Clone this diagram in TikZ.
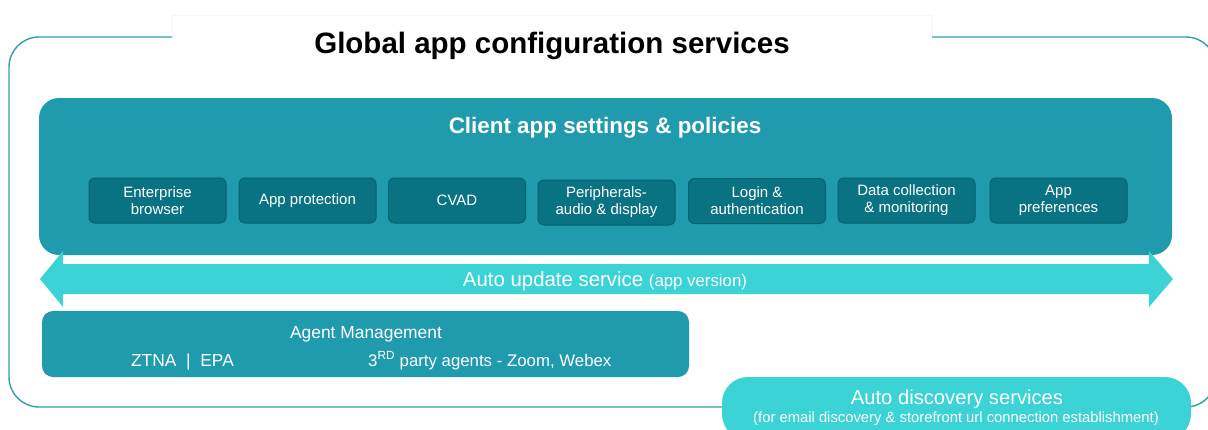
\documentclass[tikz,border=0pt]{standalone}
\usepackage{fontspec}
\setmainfont{Liberation Sans}
\definecolor{frame}{HTML}{2E9FB0}
\definecolor{mainbox}{HTML}{1F9BAD}
\definecolor{inner}{HTML}{0A7383}
\definecolor{innerborder}{HTML}{07616E}
\definecolor{cyanlight}{HTML}{3BD3D6}
\tikzset{
  fs/.style={font=\fontsize{#1}{20}\selectfont},
  innerbox/.style={draw=innerborder, fill=inner, line width=1pt, rounded corners=6pt,
    minimum width=137pt, minimum height=45pt, text=white, align=center,
    font=\fontsize{15}{17}\selectfont, inner sep=0pt},
  whitetext/.style={text=white, inner sep=0pt}
}
\begin{document}
\begin{tikzpicture}[x=1pt,y=-1pt]
\useasboundingbox (0,0) rectangle (1208,429);
% faint title area
\draw[gray!6, line width=0.6pt] (172,37) -- (172,15) -- (932,15) -- (932,37);
% outer frame
\draw[frame, line width=1.4pt, rounded corners=30pt]
  (172,37) -- (9,37) -- (9,407) -- (1216,407) -- (1216,37) -- (932,37);
% title
\node[anchor=base, inner sep=0pt, font=\fontsize{29.5}{34}\selectfont\bfseries] (title) at (552,53) {Global app configuration services};
% client app settings box
\fill[mainbox, rounded corners=20pt] (39,98) rectangle (1172,255);
\node[anchor=base, whitetext, font=\fontsize{22.4}{26}\selectfont\bfseries] (client) at (605,133) {Client app settings \& policies};
% inner boxes
\node[innerbox] (b1) at (157.5,200.5) {Enterprise\\browser};
\node[innerbox] (b2) at (307.5,200.5) {App protection};
\node[innerbox] (b3) at (457,200.5) {CVAD};
\node[innerbox] (b4) at (606.5,202.5) {Peripherals-\\audio \& display};
\node[innerbox] (b5) at (757,201) {Login \&\\authentication};
\node[innerbox] (b6) at (906.5,200.5) {Data collection\\\& monitoring};
\node[innerbox] (b7) at (1058.5,200.5) {App\\preferences};
% auto update double arrow
\fill[cyanlight] (40,279) -- (63,251) -- (63,264) -- (1149,264) -- (1149,251) -- (1173,279)
  -- (1149,307) -- (1149,294) -- (63,294) -- (63,307) -- cycle;
\node[anchor=base, whitetext] (update) at (605,286)
  {\fontsize{20.4}{24}\selectfont Auto update service \fontsize{16.8}{20}\selectfont(app version)};
% agent management
\fill[mainbox, rounded corners=11pt] (42,311) rectangle (689,377);
\node[anchor=base, whitetext, fs=17.4] (agent) at (366,338) {Agent Management};
\node[anchor=base, whitetext, fs=17.4] (ztna) at (182.5,366) {ZTNA~~|~~EPA};
\node[anchor=base west, whitetext, fs=16.8] (third) at (368,366) {3\textsuperscript{RD} party agents - Zoom, Webex};
% auto discovery pill
\fill[cyanlight, rounded corners=26pt] (722,377) rectangle (1191,440);
\node[anchor=base, whitetext, fs=20.2] (disc) at (957,404) {Auto discovery services};
\node[anchor=base, whitetext, fs=14.8] (discsub) at (956,422) {(for email discovery \& storefront url connection establishment)};
\end{tikzpicture}
\end{document}
